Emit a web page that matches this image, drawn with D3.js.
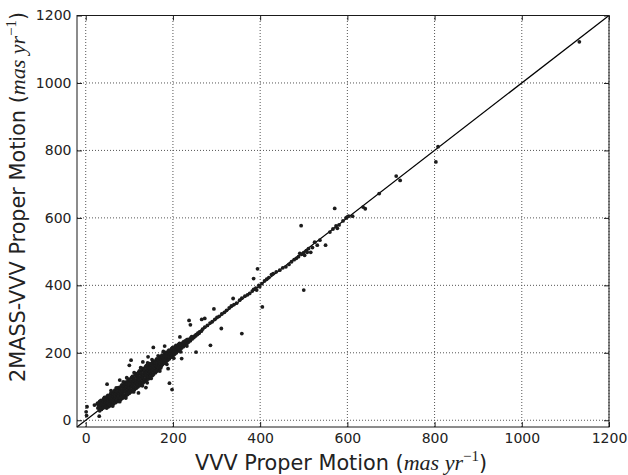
<!DOCTYPE html>
<html>
<head>
<meta charset="utf-8">
<script src="https://cdn.jsdelivr.net/npm/d3@7"></script>
<style>
  html, body { margin: 0; padding: 0; background: #fff; }
  svg { display: block; }
</style>
</head>
<body>
<svg id="chart" width="628" height="475"></svg>
<script>
// ---- data (VVV proper motion, 2MASS-VVV proper motion), mas/yr ----
const xTicks = [0, 200, 400, 600, 800, 1000, 1200];
const yTicks = [0, 200, 400, 600, 800, 1000, 1200];
const xLabelText = "VVV Proper Motion";
const yLabelText = "2MASS-VVV Proper Motion";

// dense cluster of stars along the one-to-one relation
const coreStars = [
[28,36],[29,44],[27,50],
[32,34],[31,42],[33,50],[32,56],
[36,32],[35,38],[37,45],[36,52],[35,59],
[40,36],[41,43],[39,50],[40,57],[41,63],
[44,39],[43,47],[45,54],[44,61],[43,68],
[48,36],[47,41],[49,49],[48,57],[47,64],[49,71],
[52,40],[53,45],[51,53],[52,60],[53,67],[51,74],
[56,43],[55,47],[57,55],[56,63],[55,70],[57,78],
[60,46],[61,50],[59,58],[60,66],[61,74],[59,82],
[64,49],[63,54],[65,62],[64,70],[63,78],[65,86],
[68,52],[69,57],[67,65],[68,73],[69,81],[67,89],
[72,55],[71,61],[73,69],[72,77],[71,85],[73,93],
[76,58],[77,64],[75,72],[76,81],[77,89],[75,97],
[80,61],[79,67],[81,76],[80,85],[79,93],[81,101],
[84,65],[85,71],[83,80],[84,88],[85,97],[83,105],
[88,68],[87,75],[89,84],[88,92],[87,101],[89,109],
[92,72],[93,78],[91,87],[92,96],[93,105],[91,113],
[96,76],[95,82],[97,91],[96,100],[95,109],[97,118],
[100,80],[101,86],[99,95],[100,104],[101,113],[99,122],
[104,84],[103,90],[105,99],[104,108],[103,117],[105,126],
[108,88],[109,94],[107,103],[108,112],[109,121],[107,130],
[112,91],[111,98],[113,107],[112,116],[111,125],[113,134],
[116,95],[117,102],[115,111],[116,120],[117,129],[115,138],
[120,99],[119,106],[121,115],[120,124],[119,133],[121,142],
[124,103],[125,110],[123,119],[124,128],[125,137],[123,146],
[128,107],[127,114],[129,123],[128,132],[127,141],[129,150],
[132,111],[133,118],[131,127],[132,136],[133,145],[131,154],
[136,115],[135,122],[137,131],[136,140],[135,149],[137,158],
[140,119],[141,126],[139,135],[140,144],[141,153],[139,162],
[144,123],[143,130],[145,139],[144,148],[143,157],[145,165],
[148,128],[149,134],[147,143],[148,152],[149,160],[147,168],
[152,132],[151,138],[153,147],[152,155],[151,163],[153,171],
[156,137],[157,143],[155,151],[156,159],[157,167],[155,175],
[160,141],[159,147],[161,155],[160,163],[159,171],[161,178],
[164,146],[165,151],[163,159],[164,167],[165,175],[163,182],
[168,150],[167,156],[169,164],[168,171],[167,178],[169,186],
[172,155],[173,160],[171,168],[172,175],[173,182],[171,189],
[176,165],[175,172],[177,179],[176,186],[175,193],
[180,169],[181,176],[179,183],[180,190],[181,197],
[184,173],[183,180],[185,187],[184,194],[183,201],
[188,178],[189,185],[187,191],[188,198],[189,205],
[192,182],[191,189],[193,195],[192,202],[191,208],
[196,187],[197,193],[195,199],[196,206],[197,212],
[200,191],[199,197],[201,203],[200,209],[199,215],
[204,196],[205,202],[203,207],[204,213],[205,218],
[208,200],[207,206],[209,211],[208,217],[207,222],
[212,205],[213,210],[211,215],[212,220],[213,225],
[216,209],[215,214],[217,219],[216,224],[215,228],
[220,214],[221,219],[219,223],[220,228],
[224,218],[223,223],[225,227],[224,232],
[228,223],[229,227],[227,231],[228,235],
[232,227],[231,231],[233,235],[232,239],
[236,232],[237,236],[235,240],
[240,236],[239,240],[241,244],
[244,241],[245,245],[243,248],
[248,245],[249,249],
[252,250],[253,254],
[256,254],[257,258],
[260,258],[261,262],
// ragged edges of the cluster
[58,88],[70,96],[86,114],[94,126],[111,141],[126,156],[142,170],[152,180],[166,191],[178,204],
[62,42],[78,55],[92,66],[110,84],[130,102],[150,124],[170,146],[186,166],[202,184],[218,203],[232,220]
];

// sparser stars following the relation at higher proper motion
const trendStars = [
[265,264],[268,270],[273,276],[279,281],[285,288],[290,292],[296,299],[301,305],
[306,308],[312,315],[318,320],[323,326],[329,333],[334,339],[340,343],[346,347],
[353,356],[358,362],[365,368],[371,372],[376,376],[382,383],[385,388],[390,392],
[392,386],[397,400],[399,396],[404,405],[410,413],[415,418],[420,423],[426,432],
[430,435],[437,440],[445,445],[452,452],[459,455],[466,462],[472,470],[478,476],
[483,480],[488,485],[491,495],[495,492],[500,497],[502,489],[506,503],[508,498],
[511,509],[516,498],[520,512],[525,528],[531,519],[537,534],[560,558],[567,567],
[574,576],[577,569],[581,579],[590,591],[597,600],[600,603],[603,605],[612,605],
[636,632],[641,627],[673,672],[712,724],[721,711],[808,811],[803,766],[1132,1122]
];

// stars deviating from the relation
const outlierStars = [
[494,577],[500,386],[571,628],[394,449],[385,420],[405,336],[358,257],[286,222],
[253,202],[237,296],[240,283],[266,299],[273,302],[294,330],[338,361],[311,272],
[216,247],[181,220],[155,216],[143,188],[131,173],[104,178],[100,163],[189,153],
[220,183],[49,107],[78,119],[108,89],[121,81],[138,97],[141,111],[154,134],
[192,110],[198,91],[1,25],[2,14],[3,40],[20,45],[27,50],[31,12],[32,28],[550,519]
];

const oneToOne = [[-20,-20],[1200,1200]];

// ---- drawing ----
const svg = d3.select("#chart");
const L = 77, R = 609, T = 15.5, B = 427;
const x = d3.scaleLinear().domain([-20, 1200]).range([L, R]);
const y = d3.scaleLinear().domain([-20, 1200]).range([B, T]);

const fontSans = "'DejaVu Sans', sans-serif";
const textColor = "#222";

// grid
const grid = svg.append("g");
grid.selectAll("line.gx").data(xTicks).join("line")
  .attr("x1", d => x(d)).attr("x2", d => x(d))
  .attr("y1", B).attr("y2", T)
  .attr("stroke", "#555").attr("stroke-width", 1)
  .attr("stroke-dasharray", "1,2");
grid.selectAll("line.gy").data(yTicks).join("line")
  .attr("y1", d => y(d)).attr("y2", d => y(d))
  .attr("x1", L).attr("x2", R)
  .attr("stroke", "#555").attr("stroke-width", 1)
  .attr("stroke-dasharray", "1,2");

// one-to-one line
svg.append("line")
  .attr("x1", x(oneToOne[0][0])).attr("y1", y(oneToOne[0][1]))
  .attr("x2", x(oneToOne[1][0])).attr("y2", y(oneToOne[1][1]))
  .attr("stroke", "#000").attr("stroke-width", 1.2);

// points
const allStars = coreStars.concat(trendStars, outlierStars);
svg.append("g").selectAll("circle").data(allStars).join("circle")
  .attr("cx", d => x(d[0])).attr("cy", d => y(d[1]))
  .attr("r", 1.9)
  .attr("fill", "#1c1c1c");

// axes
function styleAxis(g) {
  g.select(".domain").remove();
  g.selectAll(".tick line").attr("stroke", "#1a1a1a").attr("stroke-width", 1);
  g.selectAll(".tick text").attr("fill", textColor)
    .attr("font-family", fontSans).attr("font-size", 14);
}
svg.append("g").attr("transform", `translate(0,${B})`)
  .call(d3.axisBottom(x).tickValues(xTicks).tickSize(-5).tickPadding(6.5).tickFormat(d3.format("d")))
  .call(styleAxis);
svg.append("g").attr("transform", `translate(0,${T})`)
  .call(d3.axisTop(x).tickValues(xTicks).tickSize(-5).tickFormat(""))
  .call(styleAxis);
svg.append("g").attr("transform", `translate(${L},0)`)
  .call(d3.axisLeft(y).tickValues(yTicks).tickSize(-5).tickPadding(5.5).tickFormat(d3.format("d")))
  .call(styleAxis);
svg.append("g").attr("transform", `translate(${R},0)`)
  .call(d3.axisRight(y).tickValues(yTicks).tickSize(-5).tickFormat(""))
  .call(styleAxis);

// frame
svg.append("rect")
  .attr("x", L).attr("y", T).attr("width", R - L).attr("height", B - T)
  .attr("fill", "none").attr("stroke", "#1a1a1a").attr("stroke-width", 1);

// axis labels with math-style units
function unitLabel(t) {
  t.append("tspan").text(" (");
  t.append("tspan").attr("font-family", "'Liberation Serif', serif").attr("font-style", "italic")
    .attr("font-size", 22).text("mas yr");
  t.append("tspan").attr("font-family", "'Liberation Serif', serif")
    .attr("font-size", 15).attr("dy", -9).text("\u22121");
  t.append("tspan").attr("dy", 9).text(")");
}
const xl = svg.append("text")
  .attr("x", 195).attr("y", 469.5)
  .attr("font-family", fontSans).attr("font-size", 20.8).attr("fill", textColor);
xl.append("tspan").text(xLabelText);
unitLabel(xl);

const yl = svg.append("text")
  .attr("transform", "rotate(-90)")
  .attr("x", -382).attr("y", 25)
  .attr("font-family", fontSans).attr("font-size", 20.8).attr("fill", textColor);
yl.append("tspan").text(yLabelText);
unitLabel(yl);
</script>
</body>
</html>
